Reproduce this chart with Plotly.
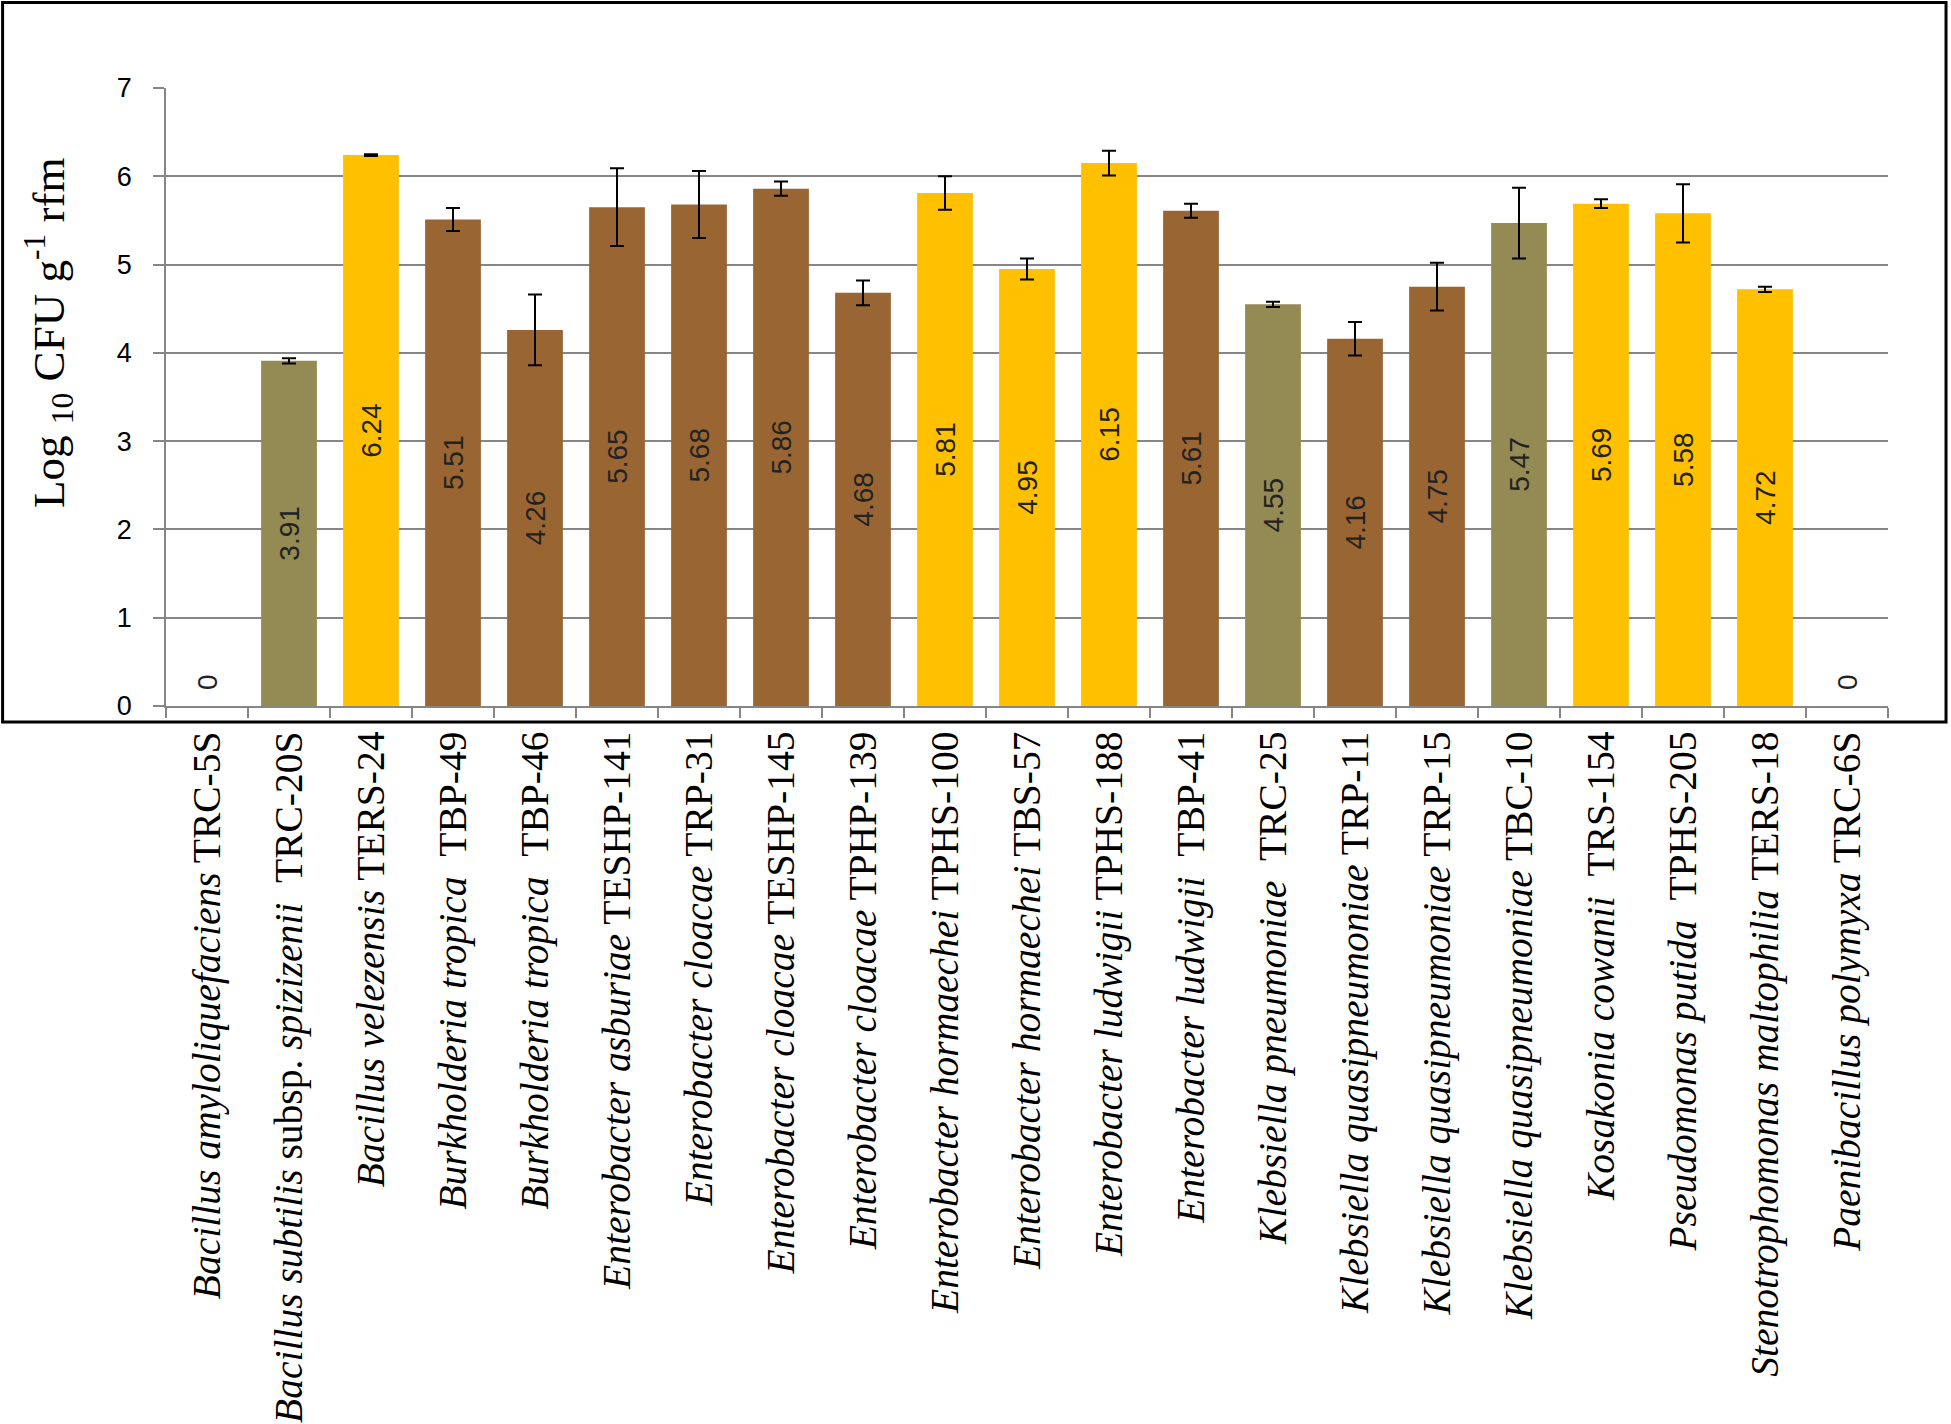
import plotly.graph_objects as go

species = [
    "Bacillus amyloliquefaciens", "Bacillus subtilis", "Bacillus velezensis",
    "Burkholderia tropica", "Burkholderia tropica", "Enterobacter asburiae",
    "Enterobacter cloacae", "Enterobacter cloacae", "Enterobacter cloacae",
    "Enterobacter hormaechei", "Enterobacter hormaechei", "Enterobacter ludwigii",
    "Enterobacter ludwigii", "Klebsiella pneumoniae", "Klebsiella quasipneumoniae",
    "Klebsiella quasipneumoniae", "Klebsiella quasipneumoniae", "Kosakonia cowanii",
    "Pseudomonas putida", "Stenotrophomonas maltophilia", "Paenibacillus polymyxa",
]
subsp = ["", "spizizenii", "", "", "", "", "", "", "", "", "", "", "", "", "", "", "", "", "", "", ""]
strains = [
    "TRC-5S", "TRC-20S", "TERS-24", "TBP-49", "TBP-46", "TESHP-141", "TRP-31",
    "TESHP-145", "TPHP-139", "TPHS-100", "TBS-57", "TPHS-188", "TBP-41", "TRC-25",
    "TRP-11", "TRP-15", "TBC-10", "TRS-154", "TPHS-205", "TERS-18", "TRC-6S",
]
double_space = [False, True, False, True, True, False, False, False, False, False,
                False, False, True, True, False, False, False, True, True, False, False]
values = [0, 3.91, 6.24, 5.51, 4.26, 5.65, 5.68, 5.86, 4.68, 5.81, 4.95, 6.15,
          5.61, 4.55, 4.16, 4.75, 5.47, 5.69, 5.58, 4.72, 0]
errors = [0, 0.03, 0.01, 0.13, 0.40, 0.44, 0.38, 0.08, 0.14, 0.19, 0.12, 0.14,
          0.08, 0.03, 0.19, 0.27, 0.40, 0.05, 0.33, 0.03, 0]
groups = ["none", "olive", "gold", "brown", "brown", "brown", "brown", "brown",
          "brown", "gold", "gold", "gold", "brown", "olive", "brown", "brown",
          "olive", "gold", "gold", "gold", "none"]
palette = {"olive": "#948A54", "gold": "#FFC000", "brown": "#996633", "none": "rgba(0,0,0,0)"}

labels = []
for sp, ss, st, ds in zip(species, subsp, strains, double_space):
    if ss:
        name = f"<i>{sp}</i> subsp. <i>{ss}</i>"
    else:
        name = f"<i>{sp}</i>"
    sep = "\u00a0\u00a0" if ds else " "
    labels.append(name + sep + st)

label_font = dict(family="Liberation Sans", size=28, color="#222222")

# bars with a non-zero value (zero bars are invisible; their "0" is annotated)
nz = [i for i, v in enumerate(values) if v != 0]

fig = go.Figure()
fig.add_trace(go.Bar(
    x=[labels[i] for i in nz], y=[values[i] for i in nz],
    marker=dict(color=[palette[groups[i]] for i in nz], line=dict(width=0)),
    error_y=dict(type="data", array=[errors[i] for i in nz], visible=True,
                 color="black", thickness=2, width=7),
    text=[f"{values[i]:g}" for i in nz], textposition="inside",
    insidetextanchor="middle", textangle=-90, textfont=label_font,
    cliponaxis=False,
))

for lab, v in zip(labels, values):
    if v == 0:
        fig.add_annotation(x=lab, y=v, text=f"{v:g}", showarrow=False, textangle=-90,
                           xanchor="center", yanchor="middle", yshift=24,
                           font=label_font)

# y-axis title
fig.add_annotation(xref="paper", yref="paper", x=-0.068, y=0.6036,
                   text="Log <sub>10</sub> CFU g<sup>-1</sup> rfm", showarrow=False,
                   textangle=-90, xanchor="center", yanchor="middle",
                   font=dict(family="Liberation Serif", size=45, color="black"))

# outer frame
fig.add_shape(type="rect", xref="paper", yref="paper",
              x0=-0.0949, x1=1.0337, y0=-0.0259, y1=1.1383,
              line=dict(color="black", width=3), fillcolor="rgba(0,0,0,0)", layer="above")

fig.update_layout(
    width=1951, height=1424,
    margin=dict(l=166, r=63, t=88, b=718),
    paper_bgcolor="white", plot_bgcolor="white",
    bargap=0.32, showlegend=False,
)
fig.update_xaxes(
    type="category", categoryorder="array", categoryarray=labels,
    range=[-0.5, len(labels) - 0.5],
    tickangle=-90, tickson="boundaries", ticks="outside",
    ticklen=10, tickwidth=1.5, tickcolor="#868686",
    showline=True, linecolor="#868686", linewidth=1.5,
    tickfont=dict(family="Liberation Serif", size=39.5, color="black"),
    ticklabelstandoff=8, automargin=False,
)
fig.update_yaxes(
    range=[0, 7], dtick=1, ticks="outside", ticklen=11, tickwidth=1.5,
    tickcolor="#868686", showline=True, linecolor="#868686", linewidth=1.5,
    showgrid=True, gridcolor="#868686", gridwidth=1.5, zeroline=False,
    tickfont=dict(family="Liberation Sans", size=27, color="black"),
    ticklabelstandoff=16, automargin=False,
)

fig.write_html("out.html", config={"displayModeBar": False},
               post_script="document.body.style.margin='0';document.body.style.overflow='hidden';")
